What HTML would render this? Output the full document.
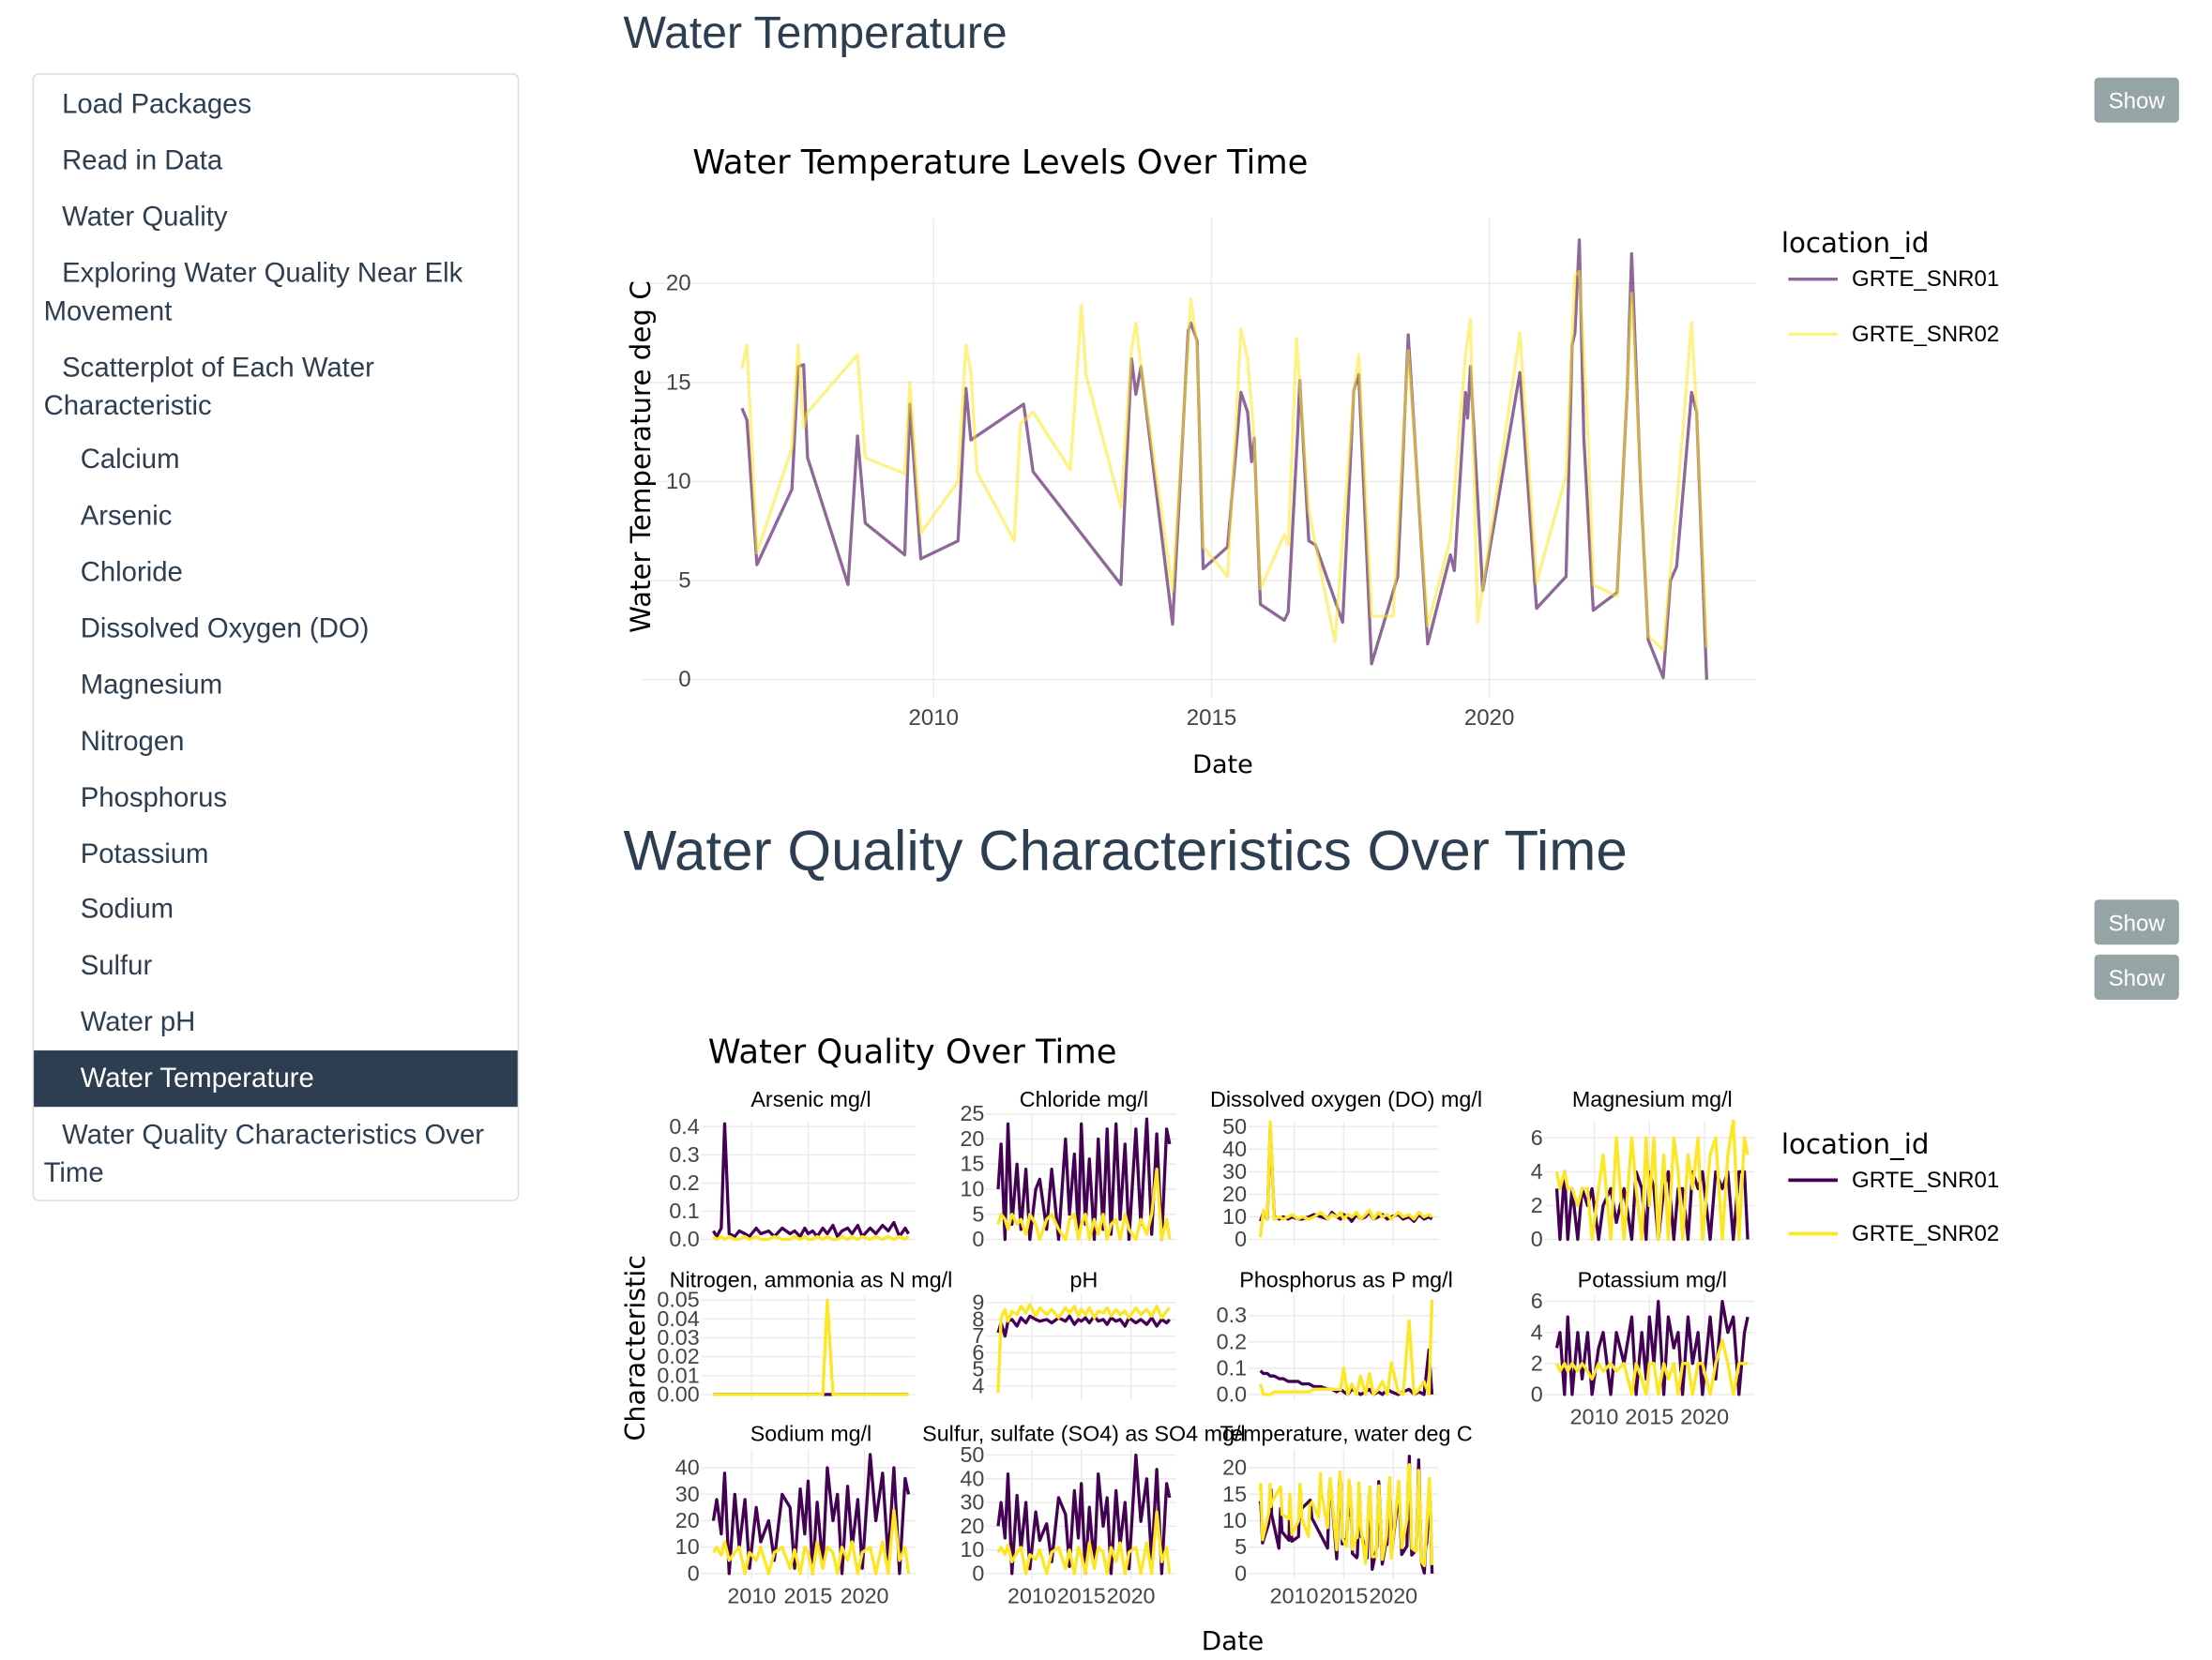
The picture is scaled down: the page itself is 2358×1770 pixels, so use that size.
<!DOCTYPE html>
<html><head><meta charset="utf-8"><style>
html,body{margin:0;padding:0;background:#fff;}
svg{display:block;font-family:"Liberation Sans",sans-serif;}
.dv{font-family:"DejaVu Sans",sans-serif;}
</style></head><body>
<svg id="root" width="2358" height="1770" viewBox="0 0 1568.4 1177.3" preserveAspectRatio="none" xmlns="http://www.w3.org/2000/svg">
<g>
<rect x="23.5" y="52.5" width="344" height="799" rx="4" fill="#fff" stroke="#ddd"/>
<rect x="24" y="745" width="343" height="40" fill="#2c3e50"/>
<g font-size="19.5" fill="#2c3e50">
<text x="44" y="80">Load Packages</text>
<text x="44" y="120">Read in Data</text>
<text x="44" y="160">Water Quality</text>
<text x="44" y="200">Exploring Water Quality Near Elk</text>
<text x="31" y="227">Movement</text>
<text x="44" y="267">Scatterplot of Each Water</text>
<text x="31" y="294">Characteristic</text>
<text x="57" y="332">Calcium</text>
<text x="57" y="372">Arsenic</text>
<text x="57" y="412">Chloride</text>
<text x="57" y="452">Dissolved Oxygen (DO)</text>
<text x="57" y="492">Magnesium</text>
<text x="57" y="532">Nitrogen</text>
<text x="57" y="572">Phosphorus</text>
<text x="57" y="612">Potassium</text>
<text x="57" y="651">Sodium</text>
<text x="57" y="691">Sulfur</text>
<text x="57" y="731">Water pH</text>
<text x="57" y="771" fill="#fff">Water Temperature</text>
<text x="44" y="811">Water Quality Characteristics Over</text>
<text x="31" y="838">Time</text>
</g></g>
<text x="442" y="34" font-size="32" fill="#2c3e50">Water Temperature</text>
<text x="442" y="617" font-size="40" fill="#2c3e50">Water Quality Characteristics Over Time</text>
<g><rect x="1485" y="55" width="60" height="32" rx="3" fill="#95a5a6"/><text x="1515" y="77" font-size="16" fill="#fff" text-anchor="middle">Show</text></g>
<g><rect x="1485" y="638" width="60" height="32" rx="3" fill="#95a5a6"/><text x="1515" y="660" font-size="16" fill="#fff" text-anchor="middle">Show</text></g>
<g><rect x="1485" y="677" width="60" height="32" rx="3" fill="#95a5a6"/><text x="1515" y="699" font-size="16" fill="#fff" text-anchor="middle">Show</text></g>
<g id="main"></g>
<g id="facets"></g>
</svg>
<script>
// ---- main chart data ----
const t1Dates=[2006.55,2006.64,2006.82,2007.45,2007.56,2007.66,2007.73,2008.46,2008.63,2008.77,2009.48,2009.57,2009.77,2010.44,2010.58,2010.67,2011.62,2011.79,2013.37,2013.56,2013.64,2013.73,2014.30,2014.58,2014.63,2014.74,2014.85,2015.29,2015.53,2015.65,2015.72,2015.77,2015.88,2016.31,2016.38,2016.55,2016.59,2016.75,2016.87,2017.36,2017.56,2017.65,2017.88,2018.35,2018.54,2018.89,2019.30,2019.37,2019.57,2019.61,2019.66,2019.88,2020.55,2020.85,2021.38,2021.49,2021.54,2021.62,2021.70,2021.87,2022.30,2022.48,2022.56,2022.72,2022.86,2023.13,2023.26,2023.37,2023.64,2023.73,2023.91];
const t1Vals=[13.7,13.1,5.8,9.6,15.8,15.9,11.2,4.8,12.3,7.9,6.3,13.9,6.1,7.0,14.7,12.1,13.9,10.5,4.8,16.2,14.4,15.8,2.8,17.6,18.0,17.1,5.6,6.7,14.5,13.5,11.0,12.2,3.8,3.0,3.4,12.5,15.1,7.0,6.8,2.9,14.6,15.4,0.8,5.2,17.4,1.8,6.3,5.5,14.5,13.2,15.8,4.5,15.5,3.6,5.2,16.9,17.5,22.2,12.2,3.5,4.4,14.5,21.5,10.0,2.0,0.1,5.0,5.7,14.5,13.5,0.0];
const t2Dates=[2006.55,2006.64,2006.82,2007.45,2007.56,2007.66,2007.73,2008.63,2008.77,2009.48,2009.57,2009.77,2010.44,2010.58,2010.67,2010.78,2011.45,2011.56,2011.79,2012.46,2012.66,2012.74,2013.37,2013.56,2013.64,2013.73,2014.30,2014.63,2014.74,2014.85,2015.29,2015.53,2015.65,2015.77,2015.88,2016.31,2016.38,2016.53,2016.75,2017.22,2017.56,2017.65,2017.88,2018.27,2018.54,2018.89,2019.30,2019.57,2019.66,2019.79,2020.55,2020.85,2021.38,2021.54,2021.62,2021.78,2021.87,2022.30,2022.56,2022.86,2023.13,2023.40,2023.64,2023.73,2023.91];
const t2Vals=[15.7,16.9,6.4,11.7,16.9,12.7,13.5,16.4,11.2,10.4,15.0,7.4,10.0,16.9,15.5,10.5,7.0,12.9,13.5,10.6,18.9,15.4,8.7,16.7,18.0,15.8,4.5,19.2,16.8,6.7,5.2,17.7,16.2,12.2,4.6,7.3,6.8,17.2,8.5,1.9,14.5,16.4,3.2,3.2,16.6,2.7,7.1,16.4,18.2,2.9,17.5,4.9,10.3,20.4,20.6,12.2,4.8,4.2,19.5,2.2,1.5,9.8,18.0,13.5,1.6];
const mainYTicks=[0,5,10,15,20];
const mainXTicks=[2010,2015,2020];
const seriesNames=["GRTE_SNR01","GRTE_SNR02"];

// ---- facet data ----
const fDates=[2006.6,2006.9,2007.3,2007.6,2008.0,2008.5,2008.9,2009.4,2009.8,2010.4,2010.8,2011.5,2012.0,2012.7,2013.4,2013.8,2014.3,2014.7,2015.0,2015.4,2015.8,2016.3,2016.7,2017.2,2017.6,2018.0,2018.5,2018.9,2019.4,2019.8,2020.5,2021.0,2021.6,2022.1,2022.6,2023.1,2023.6,2023.9];
const arsenic1=[0.03,0.01,0.04,0.41,0.02,0.01,0.03,0.02,0.01,0.04,0.02,0.03,0.01,0.04,0.02,0.03,0.01,0.04,0.02,0.03,0.01,0.04,0.02,0.05,0.01,0.03,0.04,0.02,0.05,0.01,0.04,0.02,0.05,0.03,0.06,0.01,0.04,0.02];
const arsenic2=[0.01,0,0.01,0,0.01,0,0,0.01,0,0.01,0,0,0.01,0,0,0.01,0,0.01,0,0,0.01,0,0.01,0,0,0.01,0,0.01,0,0.01,0,0.01,0,0.01,0,0.01,0,0.01];
const chloride1=[10,19,0,23,3,15,2,14,0,10,12,2,14,0,20,5,17,1,23,3,16,0,20,2,22,1,23,4,19,0,22,3,24,1,21,0,22,19];
const chloride2=[3,5,4,2,5,3,4,1,5,3,0,4,5,2,0,4,5,0,3,5,0,4,1,5,0,3,4,0,5,2,0,4,1,5,14,0,4,0];
const do1=[8,12,9,50,10,9,10,9,10,9,9,10,11,10,9,12,10,9,11,10,8,11,9,10,12,9,10,11,9,10,11,9,10,8,11,9,10,9];
const do2=[1,13,9,52,9,10,9,10,11,9,10,9,10,12,9,11,10,12,9,11,10,12,9,11,13,9,12,10,11,9,12,10,11,9,12,10,11,10];
const magnesium1=[3,0,4,0,3,0,3,2,3,0,2,3,1,3,0,4,3,0,4,3,0,3,4,0,3,3,0,4,3,4,0,4,3,4,0,4,4,0];
const magnesium2=[4,3,4,3,3,2,3,3,0,3,5,0,6,0,6,3,0,6,2,6,0,5,0,6,4,0,5,3,6,0,5,6,0,5,7,0,6,5];
const nitrogen1=[0,0,0,0,0,0,0,0,0,0,0,0,0,0,0,0,0,0,0,0,0,0,0,0,0,0,0,0,0,0,0,0,0,0,0,0,0,0];
const nitrogen2=[0,0,0,0,0,0,0,0,0,0,0,0,0,0,0,0,0,0,0,0,0,0,0.05,0,0,0,0,0,0,0,0,0,0,0,0,0,0,0];
const ph1=[7.2,7.8,7.0,7.9,8.0,7.6,8.1,7.8,8.2,8.0,7.9,8.0,7.8,8.1,7.9,8.2,7.7,8.0,7.9,8.1,7.8,8.2,7.9,8.0,7.7,8.1,7.9,8.0,7.6,8.1,7.8,8.0,7.7,8.1,7.6,8.0,7.8,8.0];
const ph2=[3.6,8.1,8.6,7.9,8.5,8.3,8.8,8.4,8.9,8.2,8.7,8.3,8.6,8.1,8.7,8.4,8.8,8.2,8.6,8.3,8.7,8.1,8.5,8.4,8.7,8.2,8.6,8.3,8.5,8.1,8.7,8.3,8.6,8.2,8.8,8.1,8.5,8.7];
const phos1=[0.09,0.08,0.08,0.07,0.07,0.06,0.06,0.05,0.05,0.05,0.04,0.04,0.03,0.03,0.02,0.02,0.01,0.02,0.01,0,0.02,0.01,0,0.01,0.02,0,0.01,0,0.02,0.01,0,0.01,0.02,0,0.01,0,0.17,0];
const phos2=[0.04,0,0,0,0.01,0.01,0.01,0.01,0.01,0.01,0.01,0.01,0.02,0.02,0.02,0.02,0.02,0.02,0.1,0,0.04,0,0.07,0,0.08,0,0.02,0.05,0,0.12,0.01,0,0.28,0,0.02,0.05,0,0.36];
const potassium1=[3,4,0,5,0,4,1,4,0,3,4,0,4,2,5,0,4,1,5,2,6,0,5,3,4,0,5,2,4,0,5,1,6,4,5,0,4,5];
const potassium2=[2,1.5,2,1.5,2,1.5,2,1.5,1,2,1.5,2,1.5,2,0,2,1,0,2,2,0,2,1,2,0,2,2,0,2,2,0,2,3.5,2,0,2,2,2];
const sodium1=[20,28,15,38,0,30,10,28,2,25,12,20,5,30,25,2,32,15,35,0,27,3,40,20,30,0,33,10,28,2,45,20,38,5,40,0,36,30];
const sodium2=[8,10,7,12,5,8,10,0,8,5,10,0,8,10,2,9,0,10,8,0,12,2,10,8,0,10,5,12,0,8,10,0,12,0,24,5,10,0];
const sulfur1=[20,30,15,42,0,33,10,30,2,26,14,21,5,32,25,3,35,15,38,0,28,3,42,20,32,0,35,12,30,2,50,22,40,5,44,0,38,32];
const sulfur2=[9,11,8,12,5,9,11,0,8,6,10,0,9,11,2,10,0,11,8,0,13,2,11,9,0,11,5,13,0,9,11,0,13,0,26,5,11,0];
const facetTitles=["Arsenic mg/l","Chloride mg/l","Dissolved oxygen (DO) mg/l","Magnesium mg/l","Nitrogen, ammonia as N mg/l","pH","Phosphorus as P mg/l","Potassium mg/l","Sodium mg/l","Sulfur, sulfate (SO4) as SO4 mg/l","Temperature, water deg C"];

const NS="http://www.w3.org/2000/svg";
function mk(parent,tag,attrs,text){const e=document.createElementNS(NS,tag);for(const k in attrs)e.setAttribute(k,attrs[k]);if(text!==undefined)e.textContent=text;parent.appendChild(e);return e;}

// ---- main chart ----
const main=document.getElementById('main');
const mx=y=>662+(y-2010)*39.4;
const my=v=>482-v*14.05;
mainYTicks.forEach(v=>{
  const l=mk(main,'line',{x1:455,x2:1245,y1:my(v),y2:my(v),stroke:'#ebebeb','stroke-width':1});
  
  
  const t=mk(main,'text',{x:490,y:my(v)+5,'font-size':16,fill:'#444','text-anchor':'end'},String(v));
  
  
});
mainXTicks.forEach(v=>{
  const l=mk(main,'line',{x1:mx(v),x2:mx(v),y1:155,y2:495,stroke:'#ebebeb','stroke-width':1});
  
  
  const t=mk(main,'text',{x:mx(v),y:514,'font-size':16,fill:'#444','text-anchor':'middle'},String(v));
  
  
});
function linePath(ds,vs,fx,fy){return ds.map((d,i)=>(i?'L':'M')+fx(d).toFixed(1)+','+fy(vs[i]).toFixed(1)).join('');}
const p1=mk(main,'path',{d:linePath(t1Dates,t1Vals,mx,my),fill:'none',stroke:'#440154','stroke-opacity':0.6,'stroke-width':2.2,'stroke-linejoin':'round'});


const p2=mk(main,'path',{d:linePath(t2Dates,t2Vals,mx,my),fill:'none',stroke:'#fde725','stroke-opacity':0.55,'stroke-width':2.2,'stroke-linejoin':'round'});


let e;
e=mk(main,'text',{x:491,y:123,'font-size':23.5,fill:'#000',class:'dv'},'Water Temperature Levels Over Time');


e=mk(main,'text',{x:867,y:548,'font-size':18,fill:'#000','text-anchor':'middle',class:'dv'},'Date');


e=mk(main,'text',{x:0,y:0,'font-size':19.5,fill:'#000','text-anchor':'middle',class:'dv',transform:'translate(461,324) rotate(-90)'},'Water Temperature deg C');


e=mk(main,'text',{x:1263,y:179,'font-size':19.5,fill:'#000',class:'dv'},'location_id');


[['#440154',0.6,198],['#fde725',0.55,237]].forEach((c,i)=>{
  const g=mk(main,'g',{});
  
  
  mk(g,'line',{x1:1268,x2:1303,y1:c[2],y2:c[2],stroke:c[0],'stroke-opacity':c[1],'stroke-width':2.2});
  mk(g,'text',{x:1313,y:c[2]+5,'font-size':16,fill:'#000'},seriesNames[i]);
});

// ---- facets ----
const F=document.getElementById('facets');
const panels=[
 {s:[arsenic1,arsenic2],x0:505,x1:645,yt:795,v0:0,p0:879,v1:0.4,p1:799,ticks:[0,0.1,0.2,0.3,0.4],fmt:1,tx:[],rowBot:883},
 {s:[chloride1,chloride2],x0:707,x1:830,yt:790,v0:0,p0:879,v1:25,p1:790,ticks:[0,5,10,15,20,25],fmt:0,tx:[],rowBot:883},
 {s:[do1,do2],x0:893,x1:1016,yt:795,v0:0,p0:879,v1:50,p1:799,ticks:[0,10,20,30,40,50],fmt:0,tx:[],rowBot:883},
 {s:[magnesium1,magnesium2],x0:1103,x1:1240,yt:795,v0:0,p0:879,v1:6,p1:807,ticks:[0,2,4,6],fmt:0,tx:[],rowBot:883},
 {s:[nitrogen1,nitrogen2],x0:505,x1:645,yt:918,v0:0,p0:989,v1:0.05,p1:922,ticks:[0,0.01,0.02,0.03,0.04,0.05],fmt:2,tx:[],rowBot:993},
 {s:[ph1,ph2],x0:707,x1:830,yt:918,v0:4,p0:983,v1:9,p1:924,ticks:[4,5,6,7,8,9],fmt:0,tx:[],rowBot:993},
 {s:[phos1,phos2],x0:893,x1:1016,yt:918,v0:0,p0:989,v1:0.3,p1:933,ticks:[0,0.1,0.2,0.3],fmt:1,tx:[],rowBot:993},
 {s:[potassium1,potassium2],x0:1103,x1:1240,yt:918,v0:0,p0:989,v1:6,p1:923,ticks:[0,2,4,6],fmt:0,tx:[2010,2015,2020],rowBot:993},
 {s:[sodium1,sodium2],x0:505,x1:645,yt:1028,v0:0,p0:1116,v1:40,p1:1041,ticks:[0,10,20,30,40],fmt:0,tx:[2010,2015,2020],rowBot:1120},
 {s:[sulfur1,sulfur2],x0:707,x1:830,yt:1028,v0:0,p0:1116,v1:50,p1:1032,ticks:[0,10,20,30,40,50],fmt:0,tx:[2010,2015,2020],rowBot:1120},
 {s:null,x0:893,x1:1016,yt:1028,v0:0,p0:1116,v1:20,p1:1041,ticks:[0,5,10,15,20],fmt:0,tx:[2010,2015,2020],rowBot:1120}
];
const titleY=[785,785,785,785,913,913,913,913,1022,1022,1022];
panels.forEach((p,i)=>{
  const g=mk(F,'g',{});
  
  
  const fx=d=>p.x0+(d-2006.5)/(2024-2006.5)*(p.x1-p.x0);
  const fy=v=>p.p0+(v-p.v0)/(p.v1-p.v0)*(p.p1-p.p0);
  const gl=p.x0-8, gr=p.x1+4;
  p.ticks.forEach(v=>{
    const l=mk(g,'line',{x1:gl,x2:gr,y1:fy(v),y2:fy(v),stroke:'#ebebeb','stroke-width':1});
    
    
    const t=mk(g,'text',{x:gl-1,y:fy(v)+5,'font-size':15.5,fill:'#444','text-anchor':'end'},v.toFixed(p.fmt));
    
    
  });
  [2010,2015,2020].forEach(v=>{
    const l=mk(g,'line',{x1:fx(v),x2:fx(v),y1:p.yt,y2:p.rowBot,stroke:'#ebebeb','stroke-width':1});
    
    
  });
  p.tx.forEach(v=>{
    const t=mk(g,'text',{x:fx(v),y:p.rowBot+17,'font-size':15.5,fill:'#444','text-anchor':'middle'},String(v));
    
    
  });
  let a,b;
  if(p.s){
    a=mk(g,'path',{d:linePath(fDates,p.s[0],fx,fy),fill:'none',stroke:'#440154','stroke-width':2.2,'stroke-linejoin':'round'});
    b=mk(g,'path',{d:linePath(fDates,p.s[1],fx,fy),fill:'none',stroke:'#fde725','stroke-width':2.2,'stroke-linejoin':'round'});
  }else{
    a=mk(g,'path',{d:linePath(t1Dates,t1Vals,fx,fy),fill:'none',stroke:'#440154','stroke-width':2.2,'stroke-linejoin':'round'});
    b=mk(g,'path',{d:linePath(t2Dates,t2Vals,fx,fy),fill:'none',stroke:'#fde725','stroke-width':2.2,'stroke-linejoin':'round'});
  }
  
  
  
  
  const t=mk(g,'text',{x:(p.x0+p.x1)/2,y:titleY[i],'font-size':15.5,fill:'#000','text-anchor':'middle'},facetTitles[i]);
  
  
});
e=mk(F,'text',{x:502,y:754,'font-size':23.5,fill:'#000',class:'dv'},'Water Quality Over Time');


e=mk(F,'text',{x:874,y:1170,'font-size':18.5,fill:'#000','text-anchor':'middle',class:'dv'},'Date');


e=mk(F,'text',{x:0,y:0,'font-size':19,fill:'#000','text-anchor':'middle',class:'dv',transform:'translate(457,956) rotate(-90)'},'Characteristic');


e=mk(F,'text',{x:1263,y:818,'font-size':19.5,fill:'#000',class:'dv'},'location_id');


[['#440154',837],['#fde725',875]].forEach((c,i)=>{
  const g=mk(F,'g',{});
  
  
  mk(g,'line',{x1:1268,x2:1303,y1:c[1],y2:c[1],stroke:c[0],'stroke-width':2.5});
  mk(g,'text',{x:1313,y:c[1]+5,'font-size':16,fill:'#000'},seriesNames[i]);
});
</script>
</body></html>
